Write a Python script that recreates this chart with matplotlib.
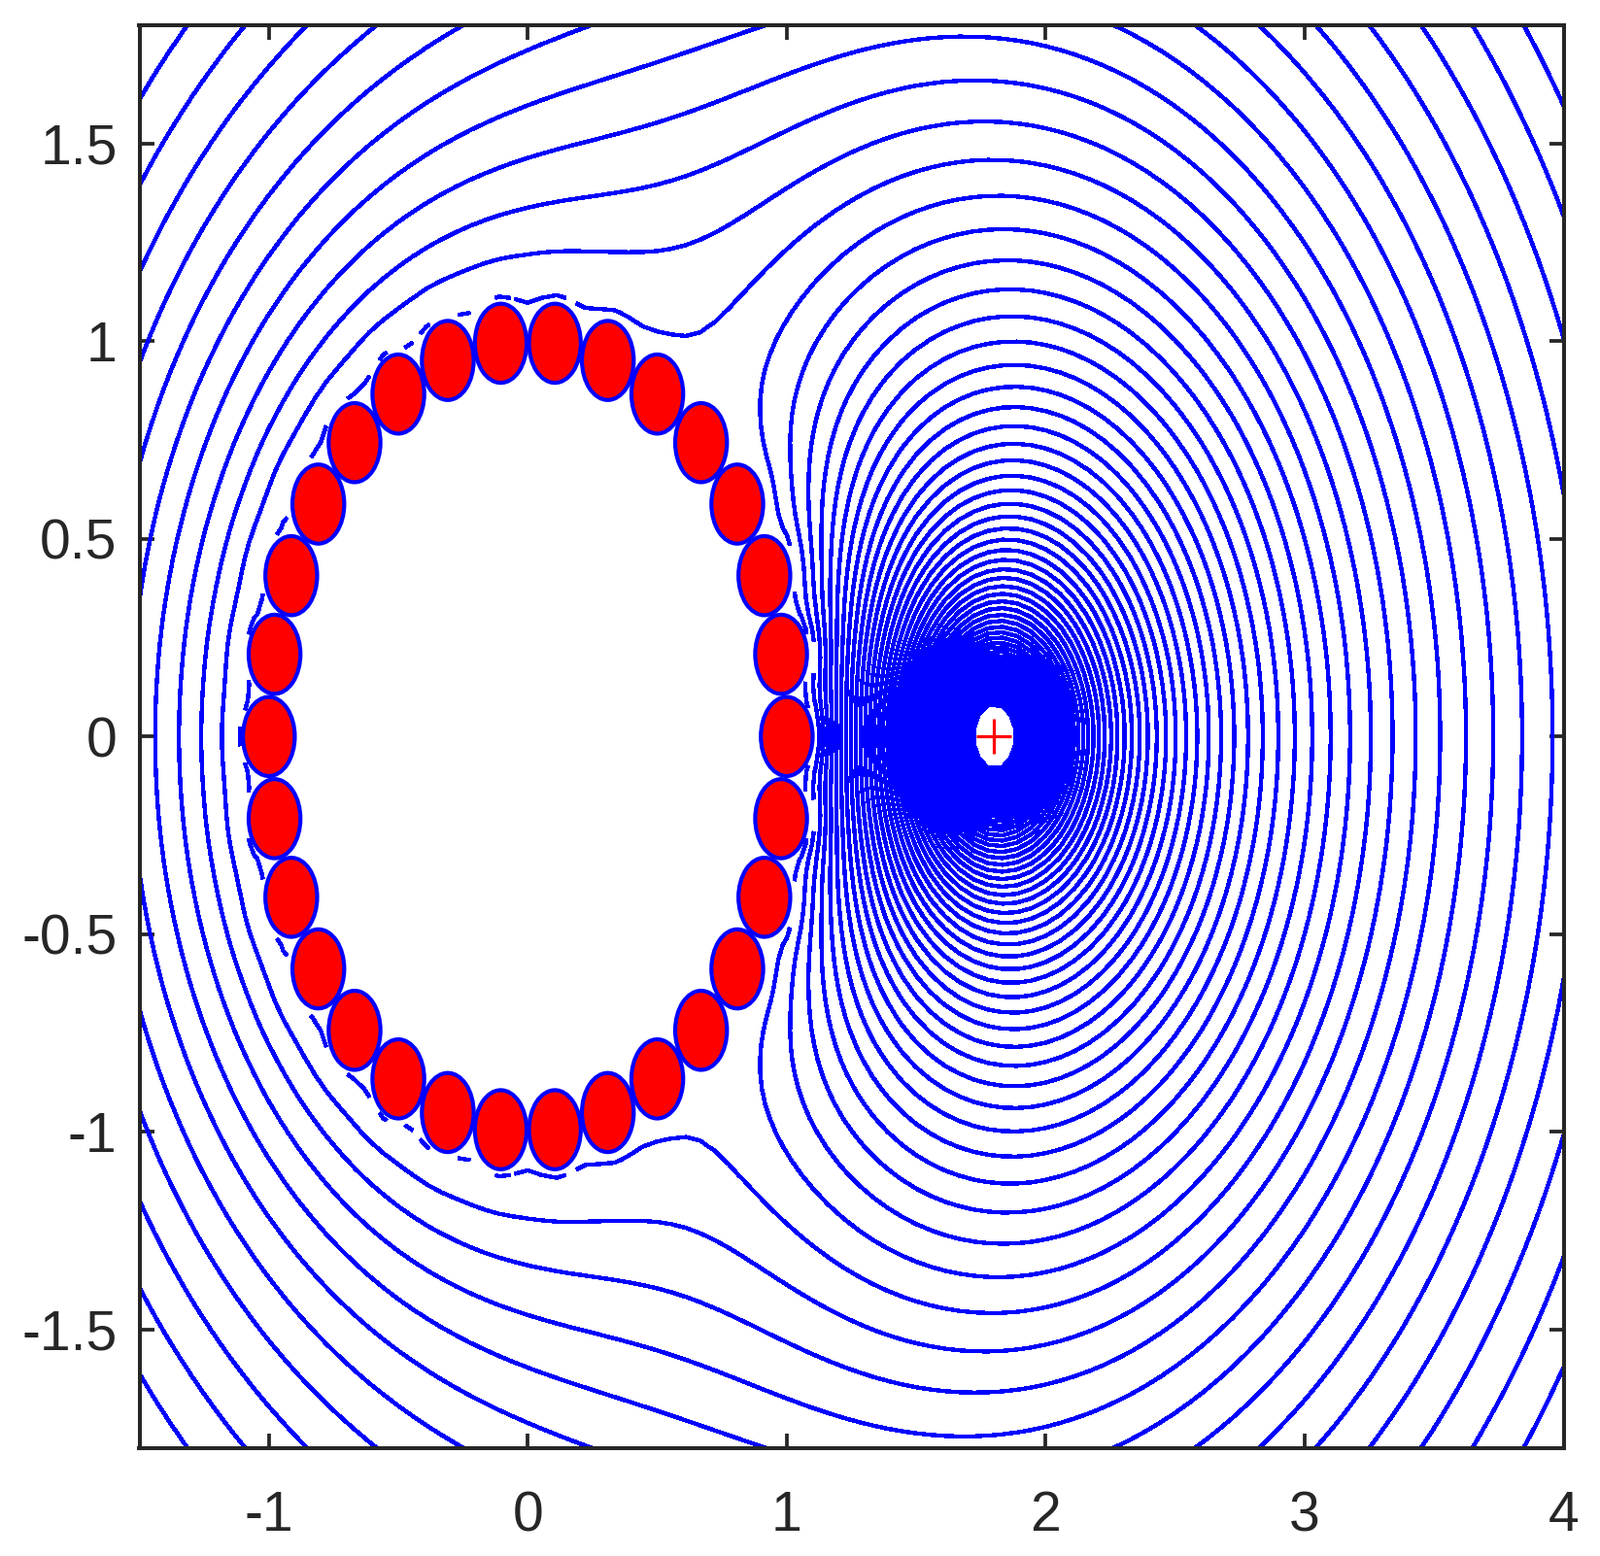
import numpy as np
import matplotlib
matplotlib.use("Agg")
from matplotlib import pyplot as plt
from matplotlib.patches import Circle

cyl_angles = [12.0 * k for k in range(30)]
cyl_ring = 1.0
cyl_radius = 0.1
source_x = 1.8
source_y = 0.0
levels = np.arange(-41, 29) * 0.05
x_ticks = [-1, 0, 1, 2, 3, 4]
y_ticks = [-1.5, -1, -0.5, 0, 0.5, 1, 1.5]
x_labels = ["-1", "0", "1", "2", "3", "4"]
y_labels = ["-1.5", "-1", "-0.5", "0", "0.5", "1", "1.5"]
x_range = [-1.5, 4.0]
y_range = [-1.8, 1.8]
grid_nx = 100
grid_ny = 100

centres = cyl_ring * np.exp(1j * np.radians(cyl_angles))
source = source_x + 1j * source_y
n_multi = 8
n_coll = 34


def basis(z):
    # one column per unknown: charge + multipoles for every cylinder
    cols = []
    for c in centres:
        d = z - c
        cols.append(np.log(np.abs(d)))
        for k in range(1, n_multi + 1):
            t = (cyl_radius / d) ** k
            cols.append(t.real)
            cols.append(t.imag)
    return np.stack(cols, axis=-1)


th = 2 * np.pi * np.arange(n_coll) / n_coll
pts = (centres[:, None] + cyl_radius * np.exp(1j * th)).ravel()
A = np.hstack([basis(pts), -np.ones((pts.size, 1))])
b = -np.log(np.abs(pts - source))
# the ring carries no net charge
row = np.zeros(A.shape[1])
row[:: 2 * n_multi + 1][:30] = 1.0
A = np.vstack([A, 100 * row])
b = np.append(b, 0.0)
sol = np.linalg.lstsq(A, b, rcond=None)[0]
coef = sol[:-1]

x = np.linspace(x_range[0], x_range[1], grid_nx)
y = np.linspace(y_range[0], y_range[1], grid_ny)
X, Y = np.meshgrid(x, y)
Z = X + 1j * Y
dist = np.abs(Z[..., None] - centres).min(axis=-1)
inside = (dist < cyl_radius) | (np.abs(Z) < cyl_ring)
Z_safe = np.where(inside, 5.0 + 5.0j, Z)
U = np.log(np.abs(Z_safe - source)) + basis(Z_safe) @ coef
U = np.ma.array(U, mask=inside)

plt.rcParams["font.family"] = ["Liberation Sans", "DejaVu Sans"]
dark = "#262626"

fig = plt.figure(figsize=(16.47, 16.02), dpi=100)
ax = fig.add_axes([143.5 / 1647, 1 - 1491 / 1602, 1466 / 1647, 1465.5 / 1602])

ax.contour(X, Y, U, levels=levels, colors="#0000ff", linewidths=2.4, linestyles="solid",
           antialiased=False)

for c in centres:
    ax.add_patch(Circle((c.real, c.imag), cyl_radius, facecolor="#ff0000",
                        edgecolor="#0000ff", linewidth=3.0, zorder=3))

ax.plot([source_x], [source_y], "+", color="#ff0000", markersize=26, markeredgewidth=2.3, zorder=4)

ax.set_xlim(x_range)
ax.set_ylim(y_range)
ax.set_xticks(x_ticks)
ax.set_xticklabels(x_labels)
ax.set_yticks(y_ticks)
ax.set_yticklabels(y_labels)
ax.tick_params(direction="in", top=True, right=True, length=10.5, width=2.7,
               color=dark, labelcolor=dark, labelsize=41)
ax.tick_params(axis="x", pad=31)
ax.tick_params(axis="y", pad=16.5)
for s in ax.spines.values():
    s.set_linewidth(2.9)
    s.set_color(dark)

fig.savefig("out.png", dpi=100)
